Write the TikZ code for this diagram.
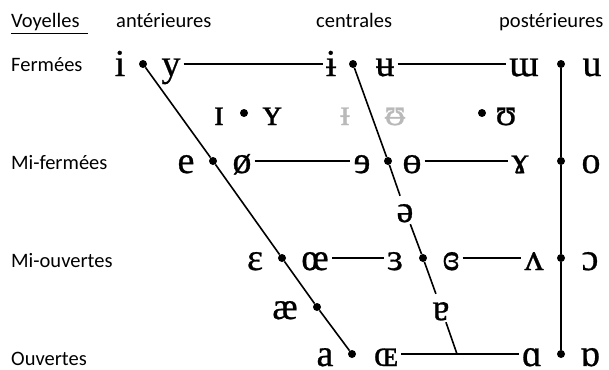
\documentclass[tikz,border=0pt]{standalone}
\usepackage{fontspec}
\setmainfont{Carlito}
\newfontfamily\ipa[FakeBold=0.7]{Liberation Serif}
\usepackage{tikz}

\begin{document}
\begin{tikzpicture}[x=1pt,y=-1pt]
				\tikzstyle{Vowel}	= [font=\ipa\fontsize{38}{38}\selectfont, text height=24pt, text depth=0pt, inner xsep=3pt, inner ysep=2pt]
				\tikzstyle{Faint}	= [Vowel, text=gray!55]
				\tikzstyle{Dot}		= [circle, fill=black, minimum size=8pt, inner sep=0pt]
				\tikzstyle{Label}	= [font=\fontsize{20.5}{24}\selectfont, inner sep=0pt]
				\tikzstyle{Line}	= [line width=1.6pt, black]

				\useasboundingbox (0,0) rectangle (609,369);

				% en-tetes
				\node (hV) at (11,28) [Label][anchor=base west] {\underline{Voyelles\hspace{8pt}}};
				\node (hA) at (116,28) [Label][anchor=base west] {antérieures};
				\node (hC) at (316,28) [Label][anchor=base west] {centrales};
				\node (hP) at (499,28) [Label][anchor=base west] {postérieures};
				\node (rF) at (11,71) [Label][anchor=base west] {Fermées};
				\node (rMF) at (11,169) [Label][anchor=base west] {Mi-fermées};
				\node (rMO) at (11,267) [Label][anchor=base west] {Mi-ouvertes};
				\node (rO) at (11,365) [Label][anchor=base west] {Ouvertes};

				% points
				\node (F1) at (143,64) [Dot] {};
				\node (F2) at (213,161) [Dot] {};
				\node (F3) at (282,258) [Dot] {};
				\node (F4) at (317,307) [Dot] {};
				\node (F5) at (352,354) [Dot] {};
				\node (C1) at (353,64) [Dot] {};
				\node (C2) at (388,161) [Dot] {};
				\node (C3) at (423,258) [Dot] {};
				\coordinate (C4) at (457,354);
				\node (B1) at (561,64) [Dot] {};
				\node (B2) at (561,161) [Dot] {};
				\node (B3) at (561,258) [Dot] {};
				\node (B4) at (561,354) [Dot] {};
				\node (N1) at (244,113) [Dot] {};
				\node (N2) at (482,113) [Dot] {};

				% fermees
				\node (i) at (120,64) [Vowel] {i};
				\node (y) at (171,64) [Vowel] {y};
				\node (ibar) at (331,64) [Vowel] {ɨ};
				\node (ubar) at (385,64) [Vowel] {ʉ};
				\node (turnm) at (524,64) [Vowel] {ɯ};
				\node (u) at (592,64) [Vowel] {u};

				% pre-fermees
				\node (smallI) at (219,113) [Vowel] {ɪ};
				\node (smallY) at (272,113) [Vowel] {ʏ};
				\node (gIbar) at (345,113) [Faint] {ᵻ};
				\node (gUbar) at (395,113) [Faint] {ᵿ};
				\node (upsilon) at (506,113) [Vowel] {ʊ};

				% mi-fermees
				\node (e) at (186,161) [Vowel] {e};
				\node (oslash) at (242,161) [Vowel] {ø};
				\node (revE) at (362,161) [Vowel] {ɘ};
				\node (obar) at (412,161) [Vowel] {ɵ};
				\node (gamma) at (520,161) [Vowel] {ɤ};
				\node (o) at (591,161) [Vowel] {o};

				\node (schwa) at (405,210) [Vowel] {ə};

				% mi-ouvertes
				\node (epsilon) at (255,258) [Vowel] {ɛ};
				\node (oe) at (315,258) [Vowel] {œ};
				\node (reveps) at (395,258) [Vowel] {ɜ};
				\node (closedrev) at (451,258) [Vowel] {ɞ};
				\node (turnv) at (534,258) [Vowel] {ʌ};
				\node (openo) at (590,258) [Vowel] {ɔ};

				% pre-ouvertes
				\node (ae) at (285,307) [Vowel] {æ};
				\node (turna) at (441,308) [Vowel] {ɐ};

				% ouvertes
				\node (a) at (325,354) [Vowel] {a};
				\node (OE) at (386,354) [Vowel] {ɶ};
				\node (alpha) at (532,354) [Vowel] {ɑ};
				\node (turnalpha) at (590,354) [Vowel] {ɒ};

				% traits
				\draw[Line] (F1) -- (F2) -- (F3) -- (F4) -- (F5);
				\draw[Line] (C1) -- (C2) -- (schwa) -- (C3) -- (turna) -- (C4);
				\draw[Line] (B1) -- (B2) -- (B3) -- (B4);
				\draw[Line] (y) -- (ibar);
				\draw[Line] (ubar) -- (turnm);
				\draw[Line] (oslash) -- (revE);
				\draw[Line] (obar) -- (gamma);
				\draw[Line] (oe) -- (reveps);
				\draw[Line] (closedrev) -- (turnv);
				\draw[Line] (OE) -- (alpha);

			\end{tikzpicture}
\end{document}
